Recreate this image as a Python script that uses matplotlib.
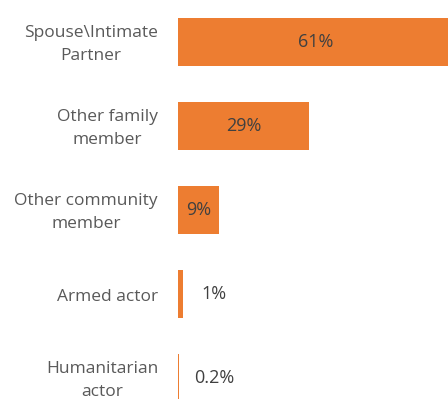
import matplotlib.pyplot as plt
import numpy as np

plt.rcParams['font.family'] = ['Open Sans', 'DejaVu Sans']

categories = ["Spouse\\Intimate\nPartner", "Other family\nmember",
              "Other community\nmember", "Armed actor", "Humanitarian\nactor"]
values = [61, 29, 9, 1, 0.2]
value_labels = ["61%", "29%", "9%", "1%", "0.2%"]

bar_color = "#ED7D31"
text_color = "#595959"


def plot_bars():
    fig = plt.figure(figsize=(4.48, 3.99), dpi=100)
    ax = fig.add_axes([178 / 448, 0, 1 - 178 / 448, 1])

    y = np.arange(len(categories))
    ax.barh(y, values, height=0.57, color=bar_color)

    # small bars get their label pushed out to the right
    for yi, v, lab in zip(y, values, value_labels):
        x = v / 2 if v > 5 else 8
        ax.text(x, yi, lab, ha="center", va="center",
                fontsize=13, color="#404040")

    # category names left of the bars
    for yi, cat in zip(y, categories):
        ax.annotate(cat, xy=(0, yi), xycoords=("axes fraction", "data"),
                    xytext=(-20, -2.5), textcoords="offset pixels",
                    ha="right", va="center", multialignment="center",
                    linespacing=1.65, fontsize=12.5, color=text_color,
                    annotation_clip=False)

    ax.set_xlim(0, 270 / 4.52)
    ax.set_ylim(4.25, -0.5)
    ax.set_xticks([])
    ax.set_yticks([])
    for s in ax.spines.values():
        s.set_visible(False)

    fig.savefig("out.png", dpi=100)


def main():
    plot_bars()


if __name__ == "__main__":
    main()
